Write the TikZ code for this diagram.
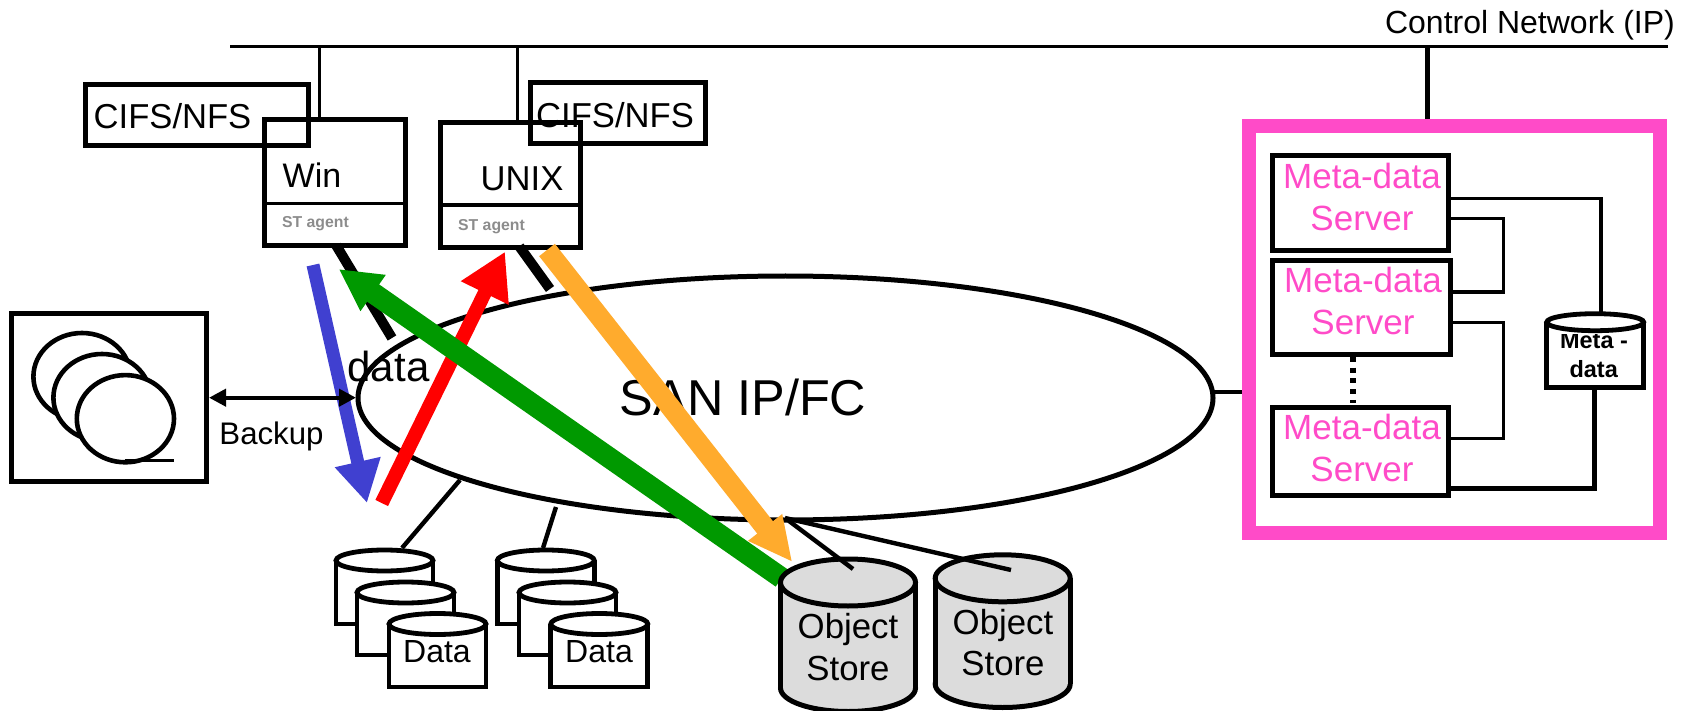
\documentclass[tikz,border=0pt]{standalone}
\usepackage{fontspec}
\setmainfont{Liberation Sans}
\usetikzlibrary{arrows.meta,shapes.geometric}
\definecolor{pinkc}{HTML}{FF4BC8}
\definecolor{bluec}{HTML}{4040D0}
\definecolor{greenc}{HTML}{009900}
\definecolor{orangec}{HTML}{FFAB2D}
\definecolor{grayc}{HTML}{DCDCDC}
\definecolor{agentc}{HTML}{8C8C8C}
\newcommand\fs[1]{\fontsize{#1}{#1}\selectfont}
% box by corners, px
\newcommand\bx[6]{%
  \pgfmathsetmacro\bxw{(#4-#2)*0.5}\pgfmathsetmacro\bxh{(#5-#3)*0.5}%
  \node[#6,minimum width=\bxw pt,minimum height=\bxh pt,inner sep=0pt,outer sep=0pt] (#1) at ({(#2+#4)/2},{(#3+#5)/2}) {};}
% text by centre x / baseline y
\newcommand\tx[6][]{\node[anchor=base,inner sep=0pt,font=\fs{#5},#1] (#2) at (#3,#4) {#6};}
% flat cylinder: name cx cy rx ry bottom
\newcommand\flatbody[6]{\coordinate (#1) at (#2,#3);
  \draw[cyl,fill=white] ({#2-#4},#3) -- ({#2-#4},#6) -- ({#2+#4},#6) -- ({#2+#4},#3);}
\newcommand\flattop[4]{\draw[cyl,fill=white] (#1,#2) ellipse [x radius=#3,y radius=#4];}
\newcommand\flatcyl[6]{\flatbody{#1}{#2}{#3}{#4}{#5}{#6}\flattop{#2}{#3}{#4}{#5}}
% object store
\newcommand\objcyl[6]{\coordinate (#1) at (#2,#3);
  \draw[objl,fill=grayc] (#2,#6) ellipse [x radius=#4,y radius=#5];
  \fill[grayc] ({#2-#4},#3) rectangle ({#2+#4},#6);
  \draw[objl] ({#2-#4},#3) -- ({#2-#4},#6) ({#2+#4},#3) -- ({#2+#4},#6);
  \draw[objl,fill=grayc] (#2,#3) ellipse [x radius=#4,y radius=#5];}
\tikzset{
  x=0.5pt,y=-0.5pt,
  thick box/.style={draw=black,line width=2.5pt},
  thin line/.style={line width=1.6pt},
  med line/.style={line width=2.2pt},
  cyl/.style={line width=2.4pt},
  objl/.style={line width=2.5pt},
  stub/.style={line width=5pt},
  big arrow/.style={line cap=butt},
}
\begin{document}
\begin{tikzpicture}
\useasboundingbox (0,0) rectangle (1692,711);
\clip (0,0) rectangle (1692,711);

% control network
\coordinate (netL) at (230,46.7);
\coordinate (netR) at (1668,46.7);
\coordinate (netWin) at (319.5,46.7);
\coordinate (netUnix) at (517.5,46.7);
\coordinate (netMeta) at (1427,46.7);
\coordinate (winTop) at (319.5,120);
\coordinate (unixTop) at (517.5,122.5);
\coordinate (metaTop) at (1427,126);
\draw[thin line] (netL) -- (netR);
\draw[thin line] (netWin) -- (winTop);
\draw[thin line] (netUnix) -- (unixTop);
\draw[line width=2.5pt] (netMeta) -- (metaTop);
\tx{ctrl}{1530}{33.5}{16}{Control Network (IP)}

% hosts
\bx{cifsA}{85.5}{84.5}{308.5}{145.5}{thick box}
\bx{win}{264.5}{120}{405}{246}{thick box}
\bx{unix}{440}{122.5}{580}{247.5}{thick box}
\bx{cifsB}{530}{83}{705}{143.5}{thick box}
\coordinate (winDivL) at (264.5,203.3);
\coordinate (winDivR) at (405,203.3);
\coordinate (unixDivL) at (440,205);
\coordinate (unixDivR) at (580,205);
\draw[thin line] (winDivL) -- (winDivR);
\draw[thin line] (unixDivL) -- (unixDivR);
\tx{cifsAt}{172.5}{129}{17.3}{CIFS/NFS}
\tx{cifsBt}{615}{128}{17.3}{CIFS/NFS}
\tx{wint}{312}{188}{17}{Win}
\tx{unixt}{522}{190.7}{17.3}{UNIX}
\tx[text=agentc]{agentA}{315.5}{227.7}{7.9}{\bfseries ST agent}
\tx[text=agentc]{agentB}{491.5}{231}{7.9}{\bfseries ST agent}

% SAN
\node[ellipse,draw,line width=2.5pt,inner sep=0pt,minimum width=427.5pt,minimum height=122pt] (san) at (785.5,398) {};
\coordinate (sanR) at (1214,392);
\coordinate (pinkL) at (1242,392);
\draw[thin line] (sanR) -- (pinkL);
\tx{sant}{743}{415}{25.2}{SAN IP/FC}

% tape library
\bx{tape}{11.5}{313.5}{206.5}{481}{thick box}
\draw[line width=2.3pt,fill=white] (82,376.6) ellipse [x radius=48.6,y radius=43.6];
\draw[line width=2.3pt,fill=white] (102,397.6) ellipse [x radius=48.6,y radius=43.6];
\coordinate (reelC) at (125.4,418.7);
\coordinate (reelA) at (125.4,460.8);
\coordinate (reelB) at (174,460.8);
\draw[line width=2.3pt,fill=white] (reelC) ellipse [x radius=48.6,y radius=43.6];
\draw[line width=1.5pt] (reelA) -- (reelB);
\tx{backupt}{271.5}{444}{15.6}{Backup}

% data connectors
\coordinate (sanA) at (460,480);
\coordinate (sanB) at (556,507);
\coordinate (dataA) at (402,548);
\coordinate (dataB) at (543,548);
\draw[med line] (sanA) -- (dataA);
\draw[med line] (sanB) -- (dataB);

% data disks
\flatcyl{dA1}{384.5}{560.5}{48.5}{10.5}{624}
\flatcyl{dA2}{405.5}{592.5}{48.5}{10.5}{655}
\flatcyl{dA3}{437.5}{624}{48.5}{10.5}{687}
\flatcyl{dB1}{545.8}{560.5}{48.5}{10.5}{624}
\flatcyl{dB2}{567.5}{592.5}{48.5}{10.5}{655}
\flatcyl{dB3}{599.3}{624}{48.5}{10.5}{687}
\tx{dAt}{437}{662}{16}{Data}
\tx{dBt}{599}{662}{16}{Data}

% black stubs
\coordinate (stubA1) at (336.2,245.4);
\coordinate (stubA2) at (392,338);
\coordinate (stubB1) at (519.3,246.4);
\coordinate (stubB2) at (550,289);
\draw[stub] (stubA1) -- (stubA2);
\draw[stub] (stubB1) -- (stubB2);

% blue arrow
\coordinate (blueS) at (313,265);
\coordinate (blueE) at (367,503);
\draw[big arrow,bluec,line width=6.5pt,-{Triangle[length=21pt,width=22pt]}] (blueS) -- (blueE);
\tx{datat}{388.5}{381.7}{21}{data}

% backup arrow
\coordinate (bkL) at (209,397.7);
\coordinate (bkR) at (356,397.7);
\draw[line width=2pt,{Triangle[length=8.5pt,width=8.5pt]}-{Triangle[length=8.5pt,width=8.5pt]}] (bkL) -- (bkR);

% red arrow
\coordinate (redS) at (381.7,503);
\coordinate (redE) at (505,251.7);
\draw[big arrow,red,line width=7pt,-{Triangle[length=23pt,width=25pt]}] (redS) -- (redE);

% orange arrow
\coordinate (oraS) at (547,250);
\coordinate (oraE) at (792.3,562);
\draw[big arrow,orangec,line width=10pt,-{Triangle[length=22pt,width=20pt]}] (oraS) -- (oraE);

% green arrow
\coordinate (greS) at (781.7,578);
\coordinate (greE) at (338.7,269);
\draw[big arrow,greenc,line width=10.5pt,-{Triangle[length=21pt,width=20.5pt]}] (greS) -- (greE);

% object stores
\objcyl{objA}{848}{582.5}{67.5}{23.5}{688}
\objcyl{objB}{1002.7}{578.3}{67.5}{23.5}{684}
\coordinate (sanS) at (785,518);
\coordinate (objAe) at (853,569);
\coordinate (objBe) at (1011,570);
\draw[med line] (sanS) -- (objAe);
\draw[med line] (sanS) -- (objBe);
\tx{objAa}{848}{638}{17.4}{Object}
\tx{objAb}{848}{680}{17.4}{Store}
\tx{objBa}{1003}{634}{17.4}{Object}
\tx{objBb}{1003}{675.7}{17.4}{Store}

% meta-data cluster
\bx{pink}{1249}{126}{1660}{533}{draw=pinkc,line width=6.65pt}
\bx{msA}{1272.5}{155.5}{1448.5}{250.5}{thick box}
\bx{msB}{1272.5}{260.5}{1450.5}{354.5}{thick box}
\bx{msC}{1272.5}{407}{1448}{495.5}{thick box}
\tx[text=pinkc]{msAa}{1362}{188.7}{17.5}{Meta-data}
\tx[text=pinkc]{msAb}{1362}{230.5}{17.5}{Server}
\tx[text=pinkc]{msBa}{1363}{292.7}{17.5}{Meta-data}
\tx[text=pinkc]{msBb}{1363}{334.9}{17.5}{Server}
\tx[text=pinkc]{msCa}{1362}{439}{17.5}{Meta-data}
\tx[text=pinkc]{msCb}{1362}{481.2}{17.5}{Server}

\coordinate (dotA) at (1353,357);
\coordinate (dotB) at (1353,403);
\draw[line width=3pt,dash pattern=on 2.5pt off 2.85pt] (dotA) -- (dotB);

\coordinate (a1) at (1450,198.5);
\coordinate (a2) at (1601,198.5);
\coordinate (a3) at (1601,315);
\draw[thin line,line join=miter] (a1) -- (a2) -- (a3);
\coordinate (b1) at (1450,218.7);
\coordinate (b2) at (1503.6,218.7);
\coordinate (b3) at (1503.6,292);
\coordinate (b4) at (1452,292);
\draw[thin line] (b1) -- (b2) -- (b3) -- (b4);
\coordinate (c1) at (1452,322.7);
\coordinate (c2) at (1503.6,322.7);
\coordinate (c3) at (1503.6,438.4);
\coordinate (c4) at (1450,438.4);
\draw[thin line] (c1) -- (c2) -- (c3) -- (c4);
\coordinate (e1) at (1449,488);
\coordinate (e2) at (1597,488);
\coordinate (e3) at (1594,488);
\coordinate (e4) at (1594,388);
\draw[line width=2.5pt] (e1) -- (e2);
\draw[line width=2.5pt] (e3) -- (e4);

% meta-data disk
\flatbody{metaD}{1595.2}{322.2}{48.5}{8.5}{387.8}
\tx{metaDa}{1594}{348.3}{11.75}{\bfseries Meta -}
\tx{metaDb}{1593.7}{377.3}{11.75}{\bfseries data}
\fill[white] (1550,322.2) rectangle (1640,334.3);
\flattop{1595.2}{322.2}{48.5}{8.5}
\end{tikzpicture}
\end{document}
